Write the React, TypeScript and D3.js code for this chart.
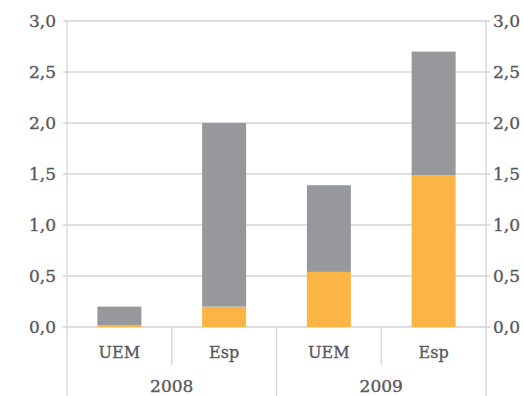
import React from "react";
import * as d3 from "d3";

const categories = ["UEM", "Esp", "UEM", "Esp"];
const years = ["2008", "2009"];
const orangeValues = [0.02, 0.2, 0.54, 1.49];
const greyValues = [0.18, 1.8, 0.85, 1.21];
const yTicks = [0, 0.5, 1, 1.5, 2, 2.5, 3];

const W = 523;
const H = 396;
const left = 67;
const right = 486;
const top = 21;
const bottom = 327;
const textColor = "#58595b";
const gridColor = "#d4d4d4";
const font = "'DejaVu Serif', serif";
const textStyle = {
  fontFamily: font,
  fill: textColor,
  stroke: textColor,
  strokeWidth: 0.35,
} as const;

export default function App() {
  const x = d3
    .scaleBand<number>()
    .domain(d3.range(categories.length))
    .range([left, right])
    .paddingInner(0.58)
    .paddingOuter(0.29);
  const y = d3.scaleLinear().domain([0, 3]).range([bottom, top]);
  const step = (right - left) / categories.length;
  const fmt = (v: number) => d3.format(".1f")(v).replace(".", ",");

  return (
    <svg
      width={W}
      height={H}
      style={{ position: "absolute", left: 0, top: 0, background: "#fff" }}
    >
      {yTicks.map((t) => (
        <g key={t}>
          <line
            x1={left - 4}
            x2={right + 4}
            y1={y(t)}
            y2={y(t)}
            stroke={gridColor}
            strokeWidth={1.3}
          />
          <text
            x={left - 11}
            y={y(t)}
            dy="0.35em"
            textAnchor="end"
            fontSize={17}
            style={textStyle}
          >
            {fmt(t)}
          </text>
          <text
            x={right + 7}
            y={y(t)}
            dy="0.35em"
            textAnchor="start"
            fontSize={17}
            style={textStyle}
          >
            {fmt(t)}
          </text>
        </g>
      ))}
      <line x1={left} x2={left} y1={top} y2={H} stroke={gridColor} strokeWidth={1.3} />
      <line x1={right} x2={right} y1={top} y2={H} stroke={gridColor} strokeWidth={1.3} />
      {/* group separators on the category axis */}
      {[1, 3].map((i) => (
        <line
          key={"s" + i}
          x1={left + step * i}
          x2={left + step * i}
          y1={bottom}
          y2={365}
          stroke={gridColor}
          strokeWidth={1.3}
        />
      ))}
      <line
        x1={left + step * 2}
        x2={left + step * 2}
        y1={bottom}
        y2={H}
        stroke={gridColor}
        strokeWidth={1.3}
      />
      {categories.map((c, i) => {
        const bx = x(i)!;
        const bw = x.bandwidth();
        const o = orangeValues[i];
        const g = greyValues[i];
        return (
          <g key={i}>
            <rect x={bx} y={y(o)} width={bw} height={y(0) - y(o)} fill="#fbb545" />
            <rect x={bx} y={y(o + g)} width={bw} height={y(o) - y(o + g)} fill="#97989b" />
            <text
              x={bx + bw / 2}
              y={352}
              dy="0.35em"
              textAnchor="middle"
              fontSize={16}
              style={textStyle}
            >
              {c}
            </text>
          </g>
        );
      })}
      {years.map((yr, j) => (
        <text
          key={yr}
          x={left + step * (2 * j + 1)}
          y={386}
          dy="0.35em"
          textAnchor="middle"
          fontSize={17}
          style={textStyle}
        >
          {yr}
        </text>
      ))}
    </svg>
  );
}
